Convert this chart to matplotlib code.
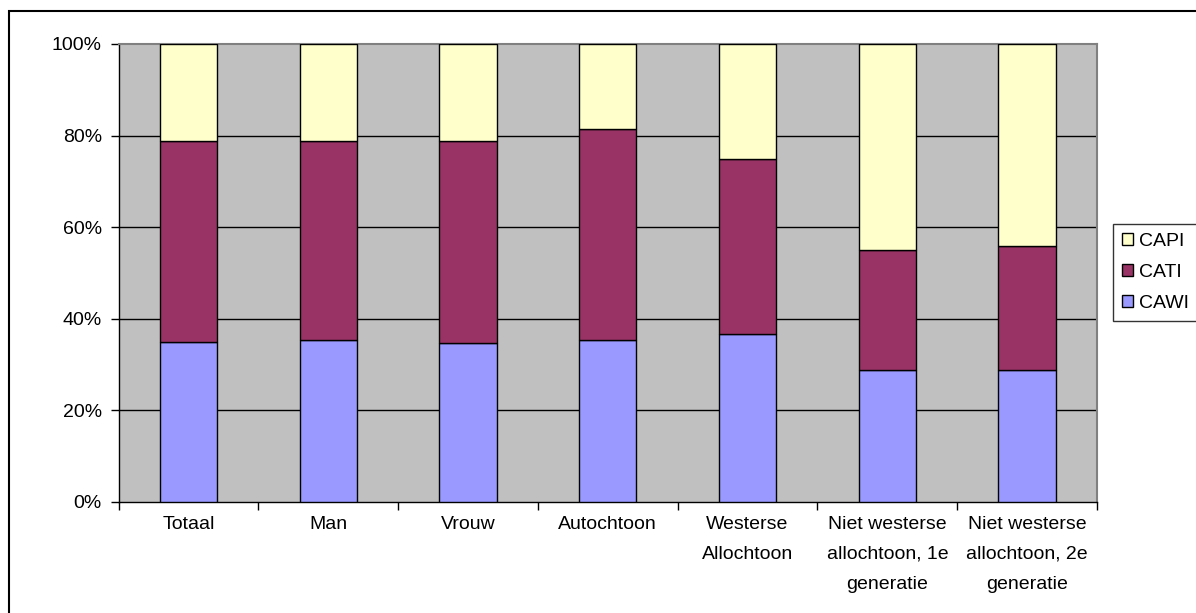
import matplotlib
matplotlib.use("Agg")
import matplotlib.pyplot as plt
from matplotlib.patches import Rectangle, Patch
import numpy as np

categories = ["Totaal", "Man", "Vrouw", "Autochtoon", "Westerse\nAllochtoon",
              "Niet westerse\nallochtoon, 1e\ngeneratie",
              "Niet westerse\nallochtoon, 2e\ngeneratie"]
cawi = [35.0, 35.4, 34.7, 35.3, 36.7, 28.9, 28.9]
cati = [43.9, 43.5, 44.2, 46.1, 38.3, 26.1, 27.0]
capi = [21.1, 21.1, 21.1, 18.6, 25.0, 45.0, 44.1]
yticks = [0, 20, 40, 60, 80, 100]
ytick_labels = ["0%", "20%", "40%", "60%", "80%", "100%"]

plt.rcParams['font.family'] = ['Liberation Sans', 'DejaVu Sans']

W, H = 1196, 613
fig = plt.figure(figsize=(W/100, H/100), dpi=100)
ax = fig.add_axes([118.6/W, 1-502/H, (1097-118.6)/W, (502-44)/H])

col_cawi, col_cati, col_capi = "#9999FF", "#993366", "#FFFFCC"
x = np.arange(len(categories))
bw = 0.41
ax.set_facecolor("#C0C0C0")
ax.bar(x, cawi, bw, color=col_cawi, edgecolor="black", linewidth=1, zorder=3)
ax.bar(x, cati, bw, bottom=cawi, color=col_cati, edgecolor="black", linewidth=1, zorder=3)
bottom2 = [a+b for a, b in zip(cawi, cati)]
ax.bar(x, capi, bw, bottom=bottom2, color=col_capi, edgecolor="black", linewidth=1, zorder=3)

ax.set_xlim(-0.5, len(categories)-0.5)
ax.set_ylim(0, 100)
ax.set_yticks(yticks)
ax.set_yticklabels(ytick_labels, fontsize=14)
for yv in yticks[1:-1]:
    ax.axhline(yv, color="#000000", linewidth=1, zorder=1)

ax.set_xticks(x)
ax.set_xticklabels(categories, fontsize=14, linespacing=2.0)
ax.set_xticks(np.arange(-0.5, len(categories), 1.0), minor=True)
ax.tick_params(axis='x', which='major', length=0, pad=10)
ax.tick_params(axis='x', which='minor', length=6, width=1, direction='out')
ax.tick_params(axis='y', length=6, width=1, direction='out', pad=6)

for s in ['top', 'right']:
    ax.spines[s].set_color("#808080")
    ax.spines[s].set_linewidth(1.5)
for s in ['left', 'bottom']:
    ax.spines[s].set_color("black")
    ax.spines[s].set_linewidth(1)

handles = [Patch(facecolor=col_capi, edgecolor="black", label="CAPI"),
           Patch(facecolor=col_cati, edgecolor="black", label="CATI"),
           Patch(facecolor=col_cawi, edgecolor="black", label="CAWI")]
leg = fig.legend(handles=handles, loc='center left',
                 bbox_to_anchor=(1113/W, 1-272.5/H), fontsize=14,
                 frameon=True, fancybox=False, edgecolor="black",
                 handlelength=0.6, handleheight=0.6, handletextpad=0.3,
                 borderpad=0.45, labelspacing=0.72, borderaxespad=0)
leg.get_frame().set_linewidth(1)

fig.patches.append(Rectangle((9/W, -0.1), 1.2, 0.1+(1-11/H), transform=fig.transFigure,
                             fill=False, edgecolor="black", linewidth=1.5))

fig.savefig("out.png", dpi=100)
